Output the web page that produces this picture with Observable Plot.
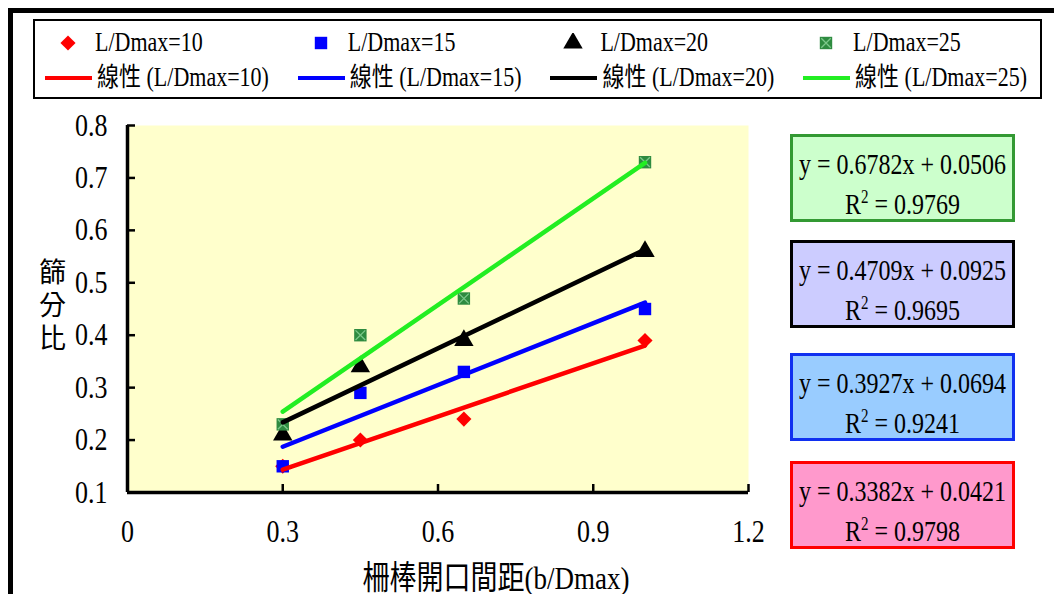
<!DOCTYPE html>
<html><head><meta charset="utf-8">
<script src="https://cdn.jsdelivr.net/npm/d3@7"></script>
<script src="https://cdn.jsdelivr.net/npm/@observablehq/plot@0.6"></script>
<style>
html,body{margin:0;padding:0;background:#fff;}
#wrap{position:relative;width:1054px;height:594px;overflow:hidden;font-family:"Liberation Serif",serif,"Noto Sans CJK TC";color:#000;}
#border{position:absolute;left:8px;top:8px;width:1100px;height:700px;border:5px solid #000;box-sizing:border-box;}
#chart{position:absolute;left:0;top:0;}
#legend{position:absolute;left:33px;top:19px;width:1009px;height:80px;border:2px solid #000;box-sizing:border-box;background:#fff;}
.item{position:absolute;font-size:22px;height:30px;line-height:30px;white-space:nowrap;transform:scaleY(1.2);}
.eq{position:absolute;box-sizing:border-box;border:3px solid;text-align:center;font-size:24px;line-height:40px;padding-top:7px;}
.eq div{transform:scaleY(1.2);}
.eq sup{font-size:15px;line-height:0;vertical-align:9px;}
#ytitle{position:absolute;left:52px;top:308px;transform:translate(-50%,-50%);writing-mode:vertical-rl;font-family:"Noto Sans CJK TC",sans-serif;font-size:27px;letter-spacing:6px;line-height:30px;}
</style></head><body><div id="wrap"><div id="border"></div><div id="chart"></div><div id="legend"></div><div id="ytitle"></div></div>
<script>
// ---- data ----
const xValues = [0.3, 0.45, 0.65, 1.0];
const seriesNames = ["L/Dmax=10", "L/Dmax=15", "L/Dmax=20", "L/Dmax=25"];
const ld10 = [0.15, 0.20, 0.24, 0.39];
const ld15 = [0.15, 0.29, 0.33, 0.45];
const ld20 = [0.21, 0.34, 0.39, 0.56];
const ld25 = [0.23, 0.40, 0.47, 0.73];
const slopes = [0.3382, 0.3927, 0.4709, 0.6782];
const intercepts = [0.0421, 0.0694, 0.0925, 0.0506];
const rSquared = [0.9798, 0.9241, 0.9695, 0.9769];
const xTicks = [0, 0.3, 0.6, 0.9, 1.2];
const xTickLabels = ["0", "0.3", "0.6", "0.9", "1.2"];
const yTicks = [0.1, 0.2, 0.3, 0.4, 0.5, 0.6, 0.7, 0.8];
const yTickLabels = ["0.1", "0.2", "0.3", "0.4", "0.5", "0.6", "0.7", "0.8"];
const xTitle = "柵棒開口間距(b/Dmax)";
const yTitle = "篩分比";
const trendPrefix = "線性";

// ---- styles ----
const markerColors = ["#ff0000", "#0000ff", "#000000", "#2e8b40"];
const lineColors = ["#ff0000", "#0000ff", "#000000", "#22ee22"];
const symbols = ["diamond2", "square", "triangle", "square"];
const radii = [6.8, 7, 7.2, 7];
const boxFill = ["#ff99cc", "#99ccff", "#ccccff", "#ccffcc"];
const boxStroke = ["#ff0000", "#1030f0", "#000000", "#339933"];

const allSeries = [ld10, ld15, ld20, ld25];
const points = allSeries.flatMap((vals, s) => vals.map((v, i) => ({s, x: xValues[i], y: v})));
const x0 = d3.min(xValues), x1 = d3.max(xValues);
const trend = slopes.flatMap((m, s) => [x0, x1].map(x => ({s, x, y: m * x + intercepts[s]})));

const font = '"Liberation Serif",serif,"Noto Sans CJK TC"';
const marks = [
  Plot.frame({fill: "#ffffcc", stroke: null}),
  Plot.axisX({ticks: xTicks, tickSize: 0, tickPadding: 29, tickFormat: d => xTickLabels[xTicks.indexOf(d)], label: null, fontSize: 26, fontFamily: font}),
  Plot.axisX({ticks: xTicks.slice(1), tickSize: -8, strokeWidth: 2.5, tickFormat: () => "", label: null}),
  Plot.axisY({ticks: yTicks, tickSize: 0, tickPadding: 20, tickFormat: d => yTickLabels[yTicks.indexOf(d)], label: null, fontSize: 26, fontFamily: font}),
  Plot.axisY({ticks: yTicks.slice(1), tickSize: -8, strokeWidth: 2.5, tickFormat: () => "", label: null}),
];
for (let s = 0; s < 4; s++) {
  const d = points.filter(p => p.s === s);
  marks.push(Plot.dot(d, {x: "x", y: "y", symbol: () => symbols[s], r: radii[s], fill: markerColors[s], stroke: null}));
  if (s === 3) marks.push(Plot.dot(d, {x: "x", y: "y", symbol: "times", r: 4.5, stroke: "#7cc88a", strokeWidth: 1.3}));
}
for (let s = 0; s < 4; s++) {
  marks.push(Plot.line(trend.filter(p => p.s === s), {x: "x", y: "y", stroke: lineColors[s], strokeWidth: 4.5}));
}
marks.push(
  Plot.ruleX([0], {y1: 0.1, y2: 0.8, strokeWidth: 3.5}),
  Plot.ruleY([0.1], {x1: 0, x2: 1.2, strokeWidth: 3.5}),
  Plot.text([xTitle], {frameAnchor: "bottom", textAnchor: "middle", lineAnchor: "middle", dx: 58, dy: 86, fontSize: 27, fontFamily: font})
);

const chart = Plot.plot({
  width: 780, height: 594,
  marginLeft: 127, marginRight: 32, marginTop: 125, marginBottom: 102,
  style: {fontFamily: font, fontSize: "24px", color: "#000", background: "transparent", overflow: "visible"},
  x: {domain: [0, 1.2]},
  y: {domain: [0.1, 0.8]},
  marks
});
document.getElementById("chart").appendChild(chart);
// stretch text vertically like the reference's tall serif glyphs
chart.querySelectorAll("text").forEach(t => {
  const b = t.getBBox();
  if (!b.height) return;
  const cy = b.y + b.height / 2;
  const tr = t.getAttribute("transform") || "";
  t.setAttribute("transform", `${tr} translate(0,${cy}) scale(1,1.2) translate(0,${-cy})`);
});

document.getElementById("ytitle").textContent = yTitle;

// ---- legend ----
const wrap = document.getElementById("wrap");
const step = 252.7;
seriesNames.forEach((name, i) => {
  const cx = 68 + i * step;
  const sym = {diamond2: d3.symbolDiamond2, square: d3.symbolSquare, triangle: d3.symbolTriangle}[symbols[i]];
  const path = d3.symbol(sym, Math.PI * radii[i] * radii[i])();
  const m = document.createElement("div");
  m.style.cssText = `position:absolute;left:${cx - 10}px;top:${43 - 10}px;width:20px;height:20px;`;
  let extra = "";
  if (i === 3) extra = `<path d="${d3.symbol(d3.symbolTimes, 60)()}" stroke="#7cc88a" stroke-width="1.3" fill="none"/>`;
  m.innerHTML = `<svg width="20" height="20"><g transform="translate(10,10)"><path d="${path}" fill="${markerColors[i]}"/>${extra}</g></svg>`;
  wrap.appendChild(m);
  const t = document.createElement("div");
  t.className = "item"; t.textContent = name;
  t.style.left = (95 + i * step) + "px"; t.style.top = (43 - 15) + "px";
  wrap.appendChild(t);
  const l = document.createElement("div");
  l.style.cssText = `position:absolute;left:${45 + i * step}px;top:${78 - 2}px;width:47px;height:4px;background:${lineColors[i]};`;
  wrap.appendChild(l);
  const t2 = document.createElement("div");
  t2.className = "item"; t2.textContent = `${trendPrefix} (${name})`;
  t2.style.left = (97 + i * step) + "px"; t2.style.top = (78 - 15) + "px";
  wrap.appendChild(t2);
});

// ---- equation boxes (top: L/Dmax=25 ... bottom: L/Dmax=10) ----
const boxTops = [461, 353, 240, 134];
slopes.forEach((m, i) => {
  const b = document.createElement("div");
  b.className = "eq";
  b.style.left = "790px"; b.style.top = boxTops[i] + "px";
  b.style.width = "225px"; b.style.height = "88px";
  b.style.background = boxFill[i]; b.style.borderColor = boxStroke[i];
  b.innerHTML = `<div>y = ${m.toFixed(4)}x + ${intercepts[i].toFixed(4)}</div><div>R<sup>2</sup> = ${rSquared[i].toFixed(4)}</div>`;
  wrap.appendChild(b);
});
</script></body></html>
